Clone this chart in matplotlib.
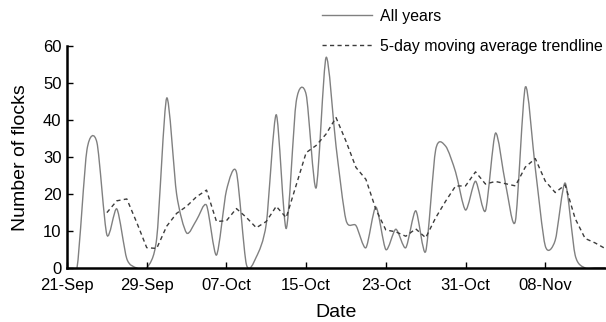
import matplotlib.pyplot as plt
import numpy as np
import pandas as pd
from matplotlib.lines import Line2D
from matplotlib.patches import PathPatch
from matplotlib.path import Path

plt.rcParams["font.family"] = ["Liberation Sans", "DejaVu Sans"]

# daily flock counts, 21-Sep .. 14-Nov (all years pooled)
flocks = [
    0, 0, 32, 34, 9, 16, 2.5, 0, 0, 8,
    46, 20, 9.5, 13, 17, 3.5, 21, 26, 1, 3,
    12, 41.5, 10.7, 45, 47, 21.7, 57, 33, 13, 11.5,
    5.5, 16.5, 5, 10.5, 5.5, 15.5, 4.5, 32, 33, 26,
    15.7, 23.5, 15.5, 36.5, 23, 12.7, 49, 27, 6, 7.5,
    23, 3.5, 0, 0, 0,
]
ma_window = 5
tick_labels = ["21-Sep", "29-Sep", "07-Oct", "15-Oct", "23-Oct", "31-Oct", "08-Nov"]
tick_step = 8
series_labels = ["All years", "5-day moving average trendline"]

SOLID_COLOR = "#808080"
DASH_COLOR = "#3c3c3c"
DASHES = (0, (3.0, 2.4))
TENSION = 0.13


def smooth_path(x, y):
    # excel style smoothed line: one cubic bezier per segment
    pts = np.column_stack([x, y])
    padded = np.vstack([pts[0], pts, pts[-1]])
    verts = [pts[0]]
    codes = [Path.MOVETO]
    for i in range(len(pts) - 1):
        p0, p1, p2, p3 = padded[i], padded[i + 1], padded[i + 2], padded[i + 3]
        verts += [p1 + (p2 - p0) * TENSION, p2 - (p3 - p1) * TENSION, p2]
        codes += [Path.CURVE4] * 3
    return Path(verts, codes)


days = np.arange(len(flocks))
moving_avg = pd.Series(flocks, dtype=float).rolling(ma_window).mean()

fig = plt.figure(figsize=(6.06, 3.22), dpi=100)
ax = fig.add_axes([0.1106, 0.1677, 0.8878, 0.688])

ax.add_patch(
    PathPatch(smooth_path(days, flocks), fill=False, edgecolor=SOLID_COLOR, lw=1.0)
)
ax.plot(days, moving_avg, linestyle=DASHES, color=DASH_COLOR, lw=1.0)

ax.set_xlim(0, len(flocks) - 1)
ax.set_ylim(0, 60)
ax.set_xticks(days[::tick_step][: len(tick_labels)])
ax.set_xticklabels(tick_labels)
ax.set_yticks(range(0, 61, 10))

for side in ["top", "right"]:
    ax.spines[side].set_visible(False)
for side in ["left", "bottom"]:
    ax.spines[side].set_linewidth(1.8)
ax.tick_params(direction="in", length=4, width=1, labelsize=12)
ax.tick_params(axis="x", pad=7)
ax.tick_params(axis="y", pad=4)

ax.set_xlabel("Date", fontsize=14, labelpad=8)
ax.set_ylabel("Number of flocks", fontsize=14, labelpad=10)

handles = [
    Line2D([], [], color=SOLID_COLOR, lw=1.0),
    Line2D([], [], color=DASH_COLOR, lw=1.0, linestyle=DASHES),
]
fig.legend(
    handles,
    series_labels,
    loc="upper left",
    bbox_to_anchor=(0.531, 0.973),
    frameon=False,
    fontsize=11.4,
    borderaxespad=0,
    borderpad=0,
    handlelength=3.2,
    handletextpad=0.5,
    labelspacing=0.95,
)

plt.savefig("out.png", dpi=100)
